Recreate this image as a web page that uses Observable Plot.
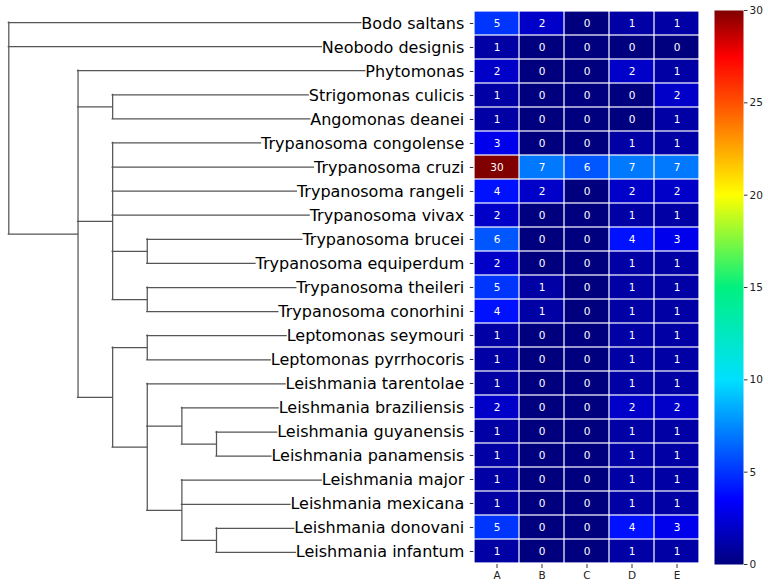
<!DOCTYPE html>
<html><head><meta charset="utf-8">
<script src="https://cdn.jsdelivr.net/npm/d3@7"></script>
<script src="https://cdn.jsdelivr.net/npm/@observablehq/plot@0.6"></script>
<style>
body{margin:0;background:#fff;}
#chart{position:relative;width:768px;height:584px;font-family:"DejaVu Sans",sans-serif;overflow:hidden;}
#chart svg{position:absolute;top:0;max-width:none;}
</style></head><body><div id="chart"></div>
<script>
const species = [
  "Bodo saltans","Neobodo designis","Phytomonas","Strigomonas culicis","Angomonas deanei",
  "Trypanosoma congolense","Trypanosoma cruzi","Trypanosoma rangeli","Trypanosoma vivax",
  "Trypanosoma brucei","Trypanosoma equiperdum","Trypanosoma theileri","Trypanosoma conorhini",
  "Leptomonas seymouri","Leptomonas pyrrhocoris","Leishmania tarentolae","Leishmania braziliensis",
  "Leishmania guyanensis","Leishmania panamensis","Leishmania major","Leishmania mexicana",
  "Leishmania donovani","Leishmania infantum"
];
const columns = ["A","B","C","D","E"];
const valuesA = [5,1,2,1,1,3,30,4,2,6,2,5,4,1,1,1,2,1,1,1,1,5,1];
const valuesB = [2,0,0,0,0,0,7,2,0,0,0,1,1,0,0,0,0,0,0,0,0,0,0];
const valuesC = [0,0,0,0,0,0,6,0,0,0,0,0,0,0,0,0,0,0,0,0,0,0,0];
const valuesD = [1,0,2,0,0,1,7,2,1,4,1,1,1,1,1,1,2,1,1,1,1,4,1];
const valuesE = [1,0,1,2,1,1,7,2,1,3,1,1,1,1,1,1,2,1,1,1,1,3,1];
const colorbarTicks = [0,5,10,15,20,25,30];
const colorStops = [0,3.5,10,15,20,25,27.5,30];
const colorRange = ["#00007f","#0000ff","#00e0ff","#00f080","#ffff00","#ff5000","#ff0000","#800000"];

// tree: b = branch length (in levels), c = children; leaves are species names
const tree = {b:0, c:[
  "Bodo saltans","Neobodo designis",
  {b:2, c:[
    "Phytomonas",
    {b:1, c:["Strigomonas culicis","Angomonas deanei"]},
    {b:1, c:["Trypanosoma congolense","Trypanosoma cruzi","Trypanosoma rangeli","Trypanosoma vivax",
      {b:1, c:["Trypanosoma brucei","Trypanosoma equiperdum"]},
      {b:1, c:["Trypanosoma theileri","Trypanosoma conorhini"]}]},
    {b:1, c:[
      {b:1, c:["Leptomonas seymouri","Leptomonas pyrrhocoris"]},
      {b:1, c:["Leishmania tarentolae",
        {b:1, c:["Leishmania braziliensis", {b:1, c:["Leishmania guyanensis","Leishmania panamensis"]}]},
        {b:1, c:["Leishmania major","Leishmania mexicana", {b:1, c:["Leishmania donovani","Leishmania infantum"]}]}
      ]}
    ]}
  ]}
]};

const W = 768, H = 584, TOP = 10, BOTTOM = 20;
const heatLeft = 473.3, heatRight = 699.3;
const labelFont = 16, tickSize = 3.5, tickPad = 6;
const font = "DejaVu Sans";

const series = [valuesA, valuesB, valuesC, valuesD, valuesE];
const cells = species.flatMap((s, i) => columns.map((c, j) => ({species: s, col: c, value: series[j][i]})));
const color = {type: "linear", domain: colorStops, range: colorRange, interpolate: "rgb"};

// ---------- dendrogram ----------
const dendroW = 470;
const xScaleCfg = {domain: [0, 6], range: [8.3, 216]};
const toDepth = d3.scaleLinear(xScaleCfg.range, xScaleCfg.domain);
const ctx = document.createElement("canvas").getContext("2d");
ctx.font = `${labelFont}px "${font}"`;
const labelRightPx = heatLeft - tickSize - tickPad;
const leafEnd = name => toDepth(labelRightPx - ctx.measureText(name).width);

const hSegs = [], vSegs = [];
function layout(node, depth) {
  if (typeof node === "string") return {y: species.indexOf(node), leaf: node};
  const d = depth + node.b;
  const kids = node.c.map(k => layout(k, d));
  const y1 = kids[0].y, y2 = kids[kids.length - 1].y;
  vSegs.push({x: d, y1, y2});
  kids.forEach(k => hSegs.push({y: k.y, x1: d, x2: k.leaf ? leafEnd(k.leaf) : k.d}));
  return {y: (y1 + y2) / 2, d};
}
layout(tree, 0);

const dendro = Plot.plot({
  width: dendroW, height: H, marginTop: TOP, marginBottom: BOTTOM, marginLeft: 0, marginRight: 0,
  style: {background: "none", overflow: "visible"},
  x: {...xScaleCfg, axis: null},
  y: {domain: [species.length - 0.5, -0.5], axis: null},
  marks: [
    Plot.ruleX(vSegs, {x: "x", y1: "y1", y2: "y2", stroke: "#555", strokeWidth: 1.25, strokeLinecap: "square"}),
    Plot.ruleY(hSegs, {y: "y", x1: "x1", x2: "x2", stroke: "#555", strokeWidth: 1.25, strokeLinecap: "square"})
  ]
});
dendro.style.left = "0px";

// ---------- heatmap ----------
const heatW = 712;
const heat = Plot.plot({
  width: heatW, height: H, marginTop: TOP, marginBottom: BOTTOM,
  marginLeft: heatLeft, marginRight: heatW - heatRight,
  style: {background: "none", overflow: "visible", fontFamily: font},
  x: {domain: columns, padding: 0, axis: null},
  y: {domain: species, padding: 0, axis: null},
  color,
  marks: [
    Plot.cell(cells, {x: "col", y: "species", fill: "value", inset: 0.6}),
    Plot.text(cells, {x: "col", y: "species", text: "value", fill: "white", fontSize: 10.5, fontFamily: font}),
    Plot.axisY({tickSize, tickPadding: tickPad, fontSize: labelFont, label: null, fill: "black", stroke: "#333", fontFamily: font}),
    Plot.axisX({anchor: "bottom", tickSize: 4, tickPadding: 3.5, fontSize: 10.5, label: null, fill: "#222", stroke: "#333", fontFamily: font})
  ]
});
heat.style.left = "0px";

// ---------- colorbar ----------
const cbLeft = 705, cbW = 63;
const cb = Plot.plot({
  width: cbW, height: H, marginTop: TOP, marginBottom: BOTTOM, marginLeft: 9, marginRight: cbW - 38,
  style: {background: "none", overflow: "visible", fontFamily: font},
  x: {domain: [0, 1], axis: null},
  y: {domain: [0, 30], axis: null},
  color,
  marks: [
    Plot.raster({x1: 0, x2: 1, y1: 0, y2: 30, width: 1, height: 554, fill: (x, y) => y, imageRendering: "auto"}),
    Plot.axisY({anchor: "right", ticks: colorbarTicks, tickSize: 3.5, tickPadding: 2.5, fontSize: 10.5, label: null, fill: "#222", stroke: "#333", fontFamily: font})
  ]
});
cb.style.left = cbLeft + "px";

const root = document.getElementById("chart");
root.append(dendro, heat, cb);
</script>
</body></html>
